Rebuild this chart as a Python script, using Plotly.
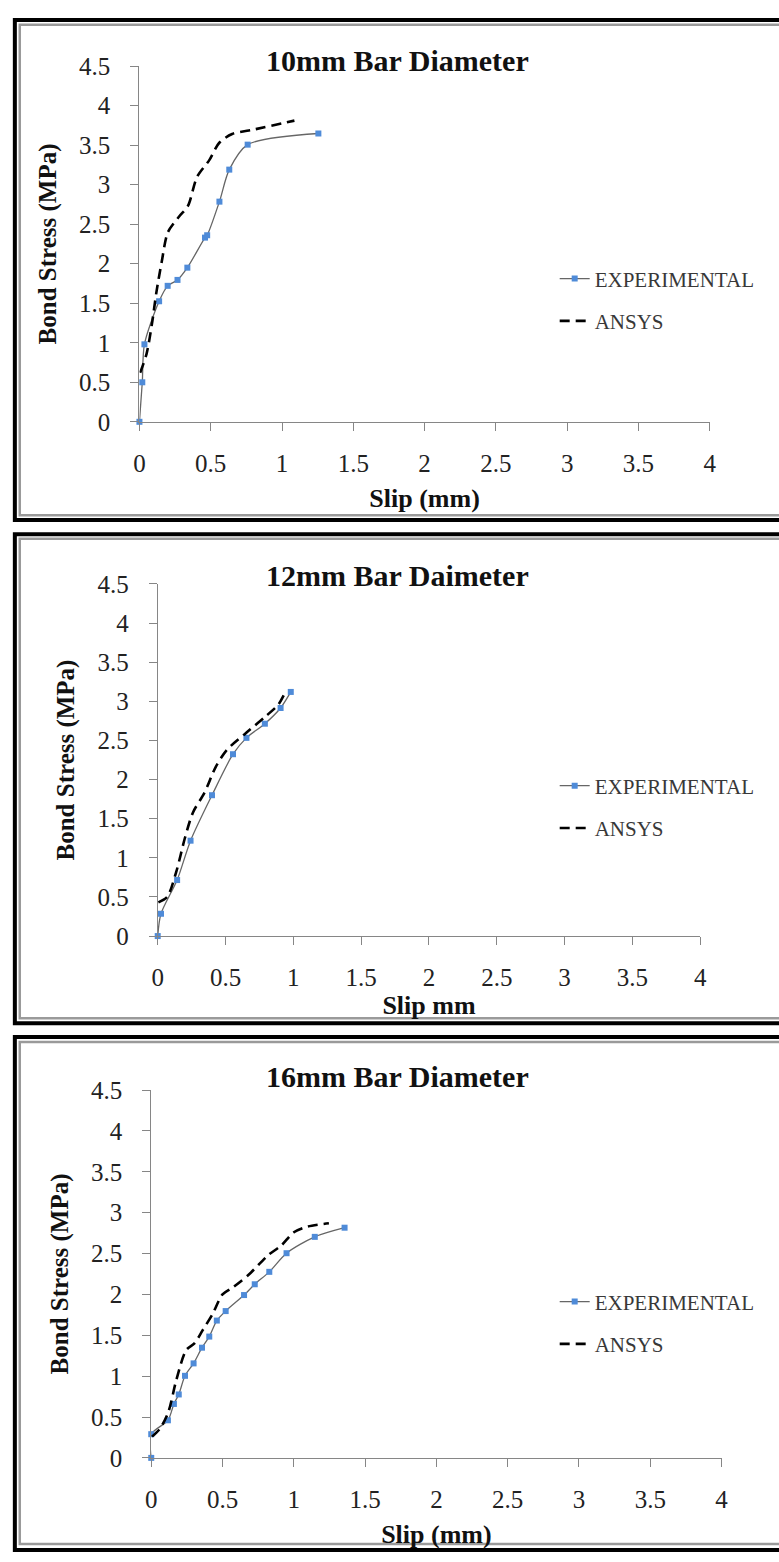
import plotly.graph_objects as go

W, H = 779, 1562

# ---------------- data ----------------
titles = ["10mm Bar Diameter", "12mm Bar Daimeter", "16mm Bar Diameter"]
xtitles = ["Slip (mm)", "Slip mm", "Slip (mm)"]
ytitle = "Bond Stress (MPa)"
series_names = ["EXPERIMENTAL", "ANSYS"]
x_ticks = [0, 0.5, 1, 1.5, 2, 2.5, 3, 3.5, 4]
y_ticks = [0, 0.5, 1, 1.5, 2, 2.5, 3, 3.5, 4, 4.5]

exp10_x = [0, 0.02, 0.035, 0.138, 0.198, 0.267, 0.336, 0.46, 0.475, 0.561, 0.63, 0.759, 1.255]
exp10_y = [0, 0.50, 0.98, 1.525, 1.72, 1.795, 1.95, 2.33, 2.36, 2.785, 3.19, 3.506, 3.647]
ans10_x = [0.005, 0.05, 0.087, 0.12, 0.156, 0.20, 0.28, 0.34, 0.405, 0.49, 0.56, 0.65, 0.81, 1.087]
ans10_y = [0.62, 0.86, 1.23, 1.65, 2.02, 2.40, 2.60, 2.73, 3.10, 3.31, 3.53, 3.64, 3.70, 3.81]

exp12_x = [0, 0.024, 0.143, 0.242, 0.40, 0.555, 0.654, 0.79, 0.906, 0.981]
exp12_y = [0, 0.285, 0.716, 1.219, 1.80, 2.324, 2.533, 2.714, 2.915, 3.12]
ans12_x = [0.005, 0.07, 0.138, 0.20, 0.26, 0.344, 0.43, 0.51, 0.647, 0.79, 0.89, 0.95]
ans12_y = [0.43, 0.50, 0.83, 1.25, 1.58, 1.83, 2.17, 2.38, 2.59, 2.80, 2.96, 3.15]

exp16_x = [0, 0.0, 0.117, 0.159, 0.193, 0.237, 0.297, 0.356, 0.407, 0.46, 0.522,
           0.651, 0.726, 0.828, 0.949, 1.147, 1.356]
exp16_y = [0, 0.29, 0.46, 0.66, 0.776, 1.004, 1.156, 1.348, 1.484, 1.68, 1.796,
           1.992, 2.124, 2.276, 2.504, 2.704, 2.816]
ans16_x = [0.005, 0.062, 0.12, 0.177, 0.246, 0.303, 0.36, 0.43, 0.50, 0.568, 0.683,
           0.82, 0.913, 1.0, 1.097, 1.246]
ans16_y = [0.26, 0.36, 0.56, 0.96, 1.32, 1.40, 1.56, 1.76, 2.0, 2.08, 2.24,
           2.48, 2.60, 2.76, 2.83, 2.87]

panels = [
    (exp10_x, exp10_y, ans10_x, ans10_y),
    (exp12_x, exp12_y, ans12_x, ans12_y),
    (exp16_x, exp16_y, ans16_x, ans16_y),
]

# ---------------- layout geometry (pixels) ----------------
areas = [
    (135.7, 715.7, 416.0, 54.0),
    (154.3, 706.0, 939.3, 581.0),
    (147.7, 727.7, 1470.3, 1096.0),
]
title_y = [48, 572, 1082]
title_x = 398
xtitle_standoff = [12, 4, 12]
legend_mid = [(603, 292), (603, 808), (603, 1333)]
frames = [  # outer black top/bottom, inner gray top/bottom
    (7, 516, 12, 511),
    (530.5, 1028, 535, 1023),
    (1042, 1564, 1047, 1558),
]

def px(x):
    return x / W

def py(y):
    return 1 - y / H

SERIF = "Liberation Serif"
AXIS_COL = "#868686"
EXP_LINE = "#666666"
EXP_MARK = "#4F8BD8"

fig = go.Figure()
layout = dict(
    width=W, height=H,
    margin=dict(l=0, r=0, t=0, b=0),
    paper_bgcolor="white", plot_bgcolor="white",
    font=dict(family=SERIF, color="#222"),
    shapes=[], annotations=[],
)

for i, (ex, ey, ax_, ay) in enumerate(panels):
    n = "" if i == 0 else str(i + 1)
    xa, ya = "x" + n, "y" + n
    leg = "legend" + n
    fig.add_trace(go.Scatter(
        x=ex, y=ey, mode="lines+markers", name=series_names[0],
        xaxis=xa, yaxis=ya, legend=leg, legendgroup="e" + n,
        line=dict(color=EXP_LINE, width=1.3, shape="spline", smoothing=0.8),
        marker=dict(symbol="square", size=6, color=EXP_MARK),
        cliponaxis=False,
    ))
    fig.add_trace(go.Scatter(
        x=ax_, y=ay, mode="lines", name=series_names[1],
        xaxis=xa, yaxis=ya, legend=leg, legendgroup="a" + n,
        line=dict(color="black", width=2.6, dash="10px,6px", shape="spline", smoothing=0.8),
        cliponaxis=False,
    ))
    xl, xr, yb, yt = areas[i]
    layout["xaxis" + n] = dict(
        domain=[px(xl), px(xr)], anchor=ya, range=[0, 4],
        tickvals=x_ticks, ticks="outside", ticklen=8, tickcolor=AXIS_COL,
        showline=True, linecolor=AXIS_COL, linewidth=1.2,
        showgrid=False, zeroline=False,
        tickfont=dict(family=SERIF, size=25, color="#222"),
        ticklabelstandoff=11,
        title=dict(text="<b>" + xtitles[i] + "</b>",
                   font=dict(family=SERIF, size=26, color="#111"),
                   standoff=xtitle_standoff[i]),
    )
    layout["yaxis" + n] = dict(
        domain=[py(yb), py(yt)], anchor=xa, range=[0, 4.5],
        tickvals=y_ticks, ticks="outside", ticklen=8, tickcolor=AXIS_COL,
        showline=True, linecolor=AXIS_COL, linewidth=1.2,
        showgrid=False, zeroline=False,
        tickfont=dict(family=SERIF, size=25, color="#222"),
        ticklabelstandoff=15,
        title=dict(text="<b>" + ytitle + "</b>",
                   font=dict(family=SERIF, size=25, color="#111"), standoff=15),
    )
    lx, lmid = legend_mid[i]
    layout[leg] = dict(
        x=px(lx - 45), y=py(lmid), xanchor="left", yanchor="middle",
        bgcolor="rgba(0,0,0,0)", font=dict(family=SERIF, size=21, color="#383838"),
        tracegroupgap=12, traceorder="grouped", itemwidth=30,
    )
    layout["annotations"].append(dict(
        text="<b>" + titles[i] + "</b>", x=px(title_x), y=py(title_y[i]),
        xref="paper", yref="paper", showarrow=False, xanchor="center", yanchor="middle",
        font=dict(family=SERIF, size=30, color="#111"),
    ))
    ot, ob, it, ib = frames[i]
    layout["shapes"].append(dict(
        type="rect", xref="paper", yref="paper",
        x0=px(9), x1=px(800), y0=py(ob), y1=py(ot),
        line=dict(color="black", width=4), layer="below",
    ))
    layout["shapes"].append(dict(
        type="rect", xref="paper", yref="paper",
        x0=px(14), x1=px(800), y0=py(ib), y1=py(it),
        line=dict(color="#9a9a9a", width=2.5), layer="below",
    ))

fig.update_layout(**layout)
fig.write_html(
    "out.html",
    post_script="document.body.style.margin='0';document.body.style.overflow='hidden';",
)
